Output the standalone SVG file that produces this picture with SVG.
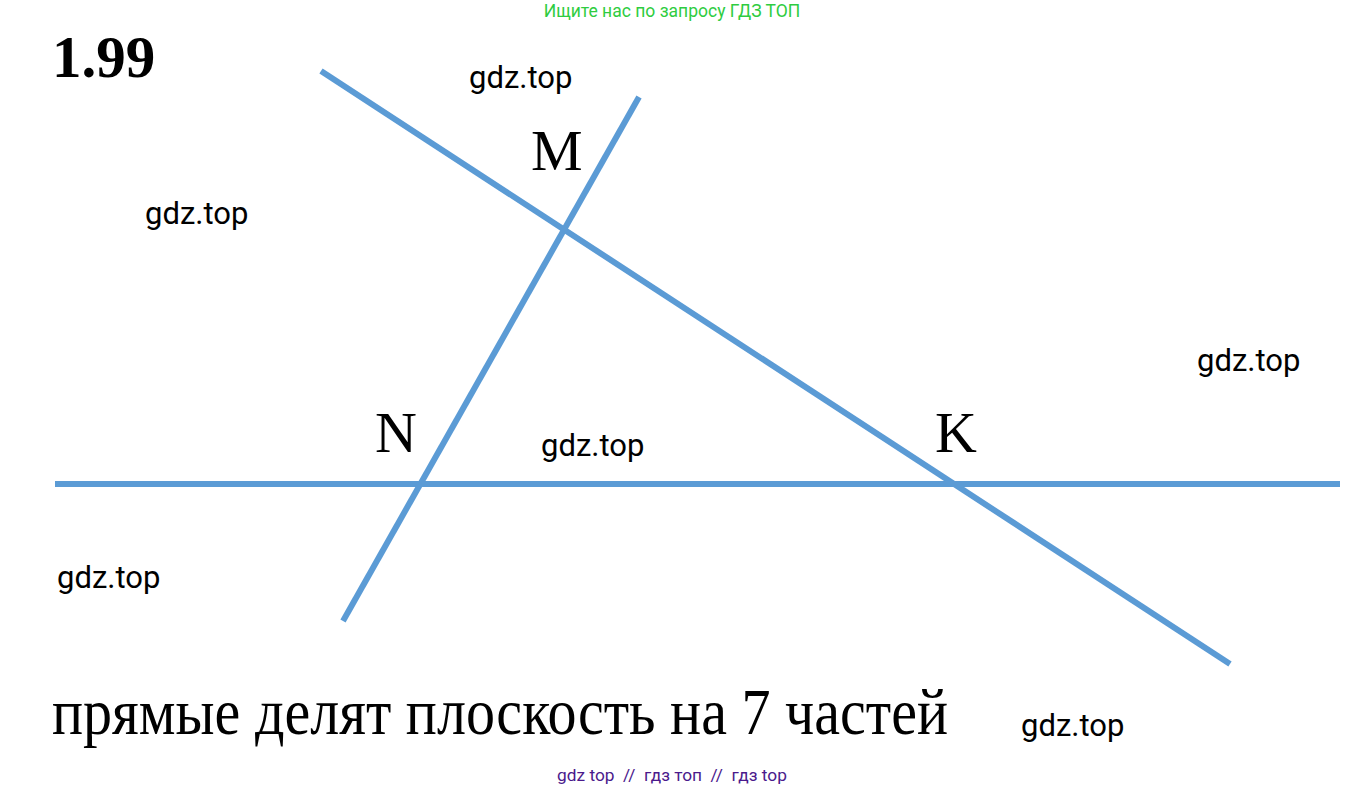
<svg xmlns="http://www.w3.org/2000/svg" width="1345" height="790" viewBox="0 0 1345 790">
<style>
.ln{stroke:#5b9bd5;stroke-width:6;fill:none}
.pt{font-family:"Liberation Serif","Times New Roman",serif;font-size:58px;fill:#000}
.wm{font-family:Roboto,"Liberation Sans",sans-serif;font-size:31px;fill:#000}
</style>
<rect width="1345" height="790" fill="#fff"/>
<text x="672" y="17" text-anchor="middle" font-family="Roboto,'Liberation Sans',sans-serif" font-size="17.5" fill="#2ecc40">Ищите нас по запросу ГДЗ ТОП</text>
<text x="52" y="77" font-family="'Liberation Serif','Times New Roman',serif" font-size="59" font-weight="bold">1.99</text>
<g id="connectors">
<line class="ln" x1="321" y1="71" x2="1230" y2="664"/>
<line class="ln" x1="639" y1="97" x2="343" y2="621"/>
<line class="ln" x1="55" y1="484" x2="1340" y2="484"/>
</g>
<g id="M"><text class="pt" x="531" y="170">M</text></g>
<g id="N"><text class="pt" x="375" y="452">N</text></g>
<g id="K"><text class="pt" x="935" y="452">K</text></g>
<g id="watermarks">
<text class="wm" x="469" y="88">gdz.top</text>
<text class="wm" x="145" y="224">gdz.top</text>
<text class="wm" x="1197" y="371">gdz.top</text>
<text class="wm" x="541" y="456">gdz.top</text>
<text class="wm" x="57" y="588">gdz.top</text>
<text class="wm" x="1021" y="736">gdz.top</text>
</g>
<text transform="translate(52,734) scale(1,1.138)" x="0" y="0" font-family="'Liberation Serif','Times New Roman',serif" font-size="58" textLength="896" lengthAdjust="spacingAndGlyphs">прямые делят плоскость на 7 частей</text>
<text x="672" y="781" text-anchor="middle" font-family="Roboto,'Liberation Sans',sans-serif" font-size="17.3" fill="#4b1a8c" xml:space="preserve">gdz top  //  гдз топ  //  гдз top</text>
</svg>
